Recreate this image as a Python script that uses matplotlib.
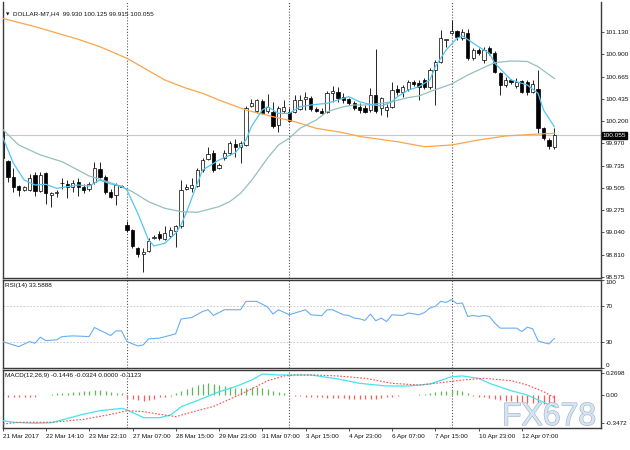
import numpy as np
import matplotlib
matplotlib.use("Agg")
import matplotlib.pyplot as plt
import matplotlib.transforms as mtrans
import matplotlib.patheffects as pe

plt.rcParams['font.family'] = ['Liberation Sans', 'DejaVu Sans']

# DOLLAR-M7, H4 candles (one per 4h bar)
opens = [100.098, 99.785, 99.615, 99.524, 99.483, 99.483, 99.639, 99.472, 99.660, 99.431,
         99.451, 99.556, 99.545, 99.514, 99.566, 99.514, 99.493, 99.566, 99.702, 99.618,
         99.462, 99.431, 99.524, 99.118, 99.066, 98.878, 98.815, 98.846, 98.982, 99.024,
         98.972, 99.003, 99.055, 99.107, 99.493, 99.504, 99.524, 99.691, 99.806, 99.869,
         99.712, 99.816, 99.869, 99.962, 99.931, 99.952, 100.359, 100.307, 100.411, 100.307,
         100.296, 100.161, 100.307, 100.296, 100.296, 100.327, 100.432, 100.442, 100.327, 100.307,
         100.296, 100.494, 100.505, 100.453, 100.432, 100.390, 100.348, 100.338, 100.317, 100.473,
         100.338, 100.317, 100.348, 100.536, 100.505, 100.536, 100.609, 100.599, 100.630, 100.557,
         100.734, 100.818, 101.047, 101.120, 101.141, 101.068, 101.120, 100.859, 100.943, 100.838,
         100.963, 100.911, 100.703, 100.578, 100.630, 100.567, 100.619, 100.609, 100.505, 100.536,
         100.129, 100.004, 99.930]
highs = [100.129, 99.795, 99.709, 99.535, 99.524, 99.650, 99.670, 99.670, 99.670, 99.462,
         99.483, 99.608, 99.587, 99.587, 99.608, 99.545, 99.566, 99.775, 99.775, 99.639,
         99.493, 99.556, 99.535, 99.160, 99.076, 98.888, 98.878, 98.982, 99.013, 99.055,
         99.107, 99.097, 99.118, 99.587, 99.545, 99.608, 99.712, 99.816, 99.931, 99.900,
         99.764, 99.900, 99.994, 100.015, 99.994, 100.359, 100.432, 100.432, 100.432, 100.484,
         100.400, 100.359, 100.421, 100.338, 100.473, 100.473, 100.505, 100.463, 100.348, 100.338,
         100.515, 100.567, 100.557, 100.494, 100.442, 100.411, 100.390, 100.369, 100.546, 100.953,
         100.453, 100.380, 100.609, 100.578, 100.578, 100.630, 100.630, 100.630, 100.651, 100.755,
         100.838, 101.151, 101.057, 101.256, 101.151, 101.162, 101.162, 100.963, 100.963, 100.974,
         100.984, 100.932, 100.713, 100.661, 100.640, 100.651, 100.630, 100.630, 100.630, 100.734,
         100.140, 100.025, 100.125]
lows = [99.795, 99.566, 99.465, 99.420, 99.472, 99.472, 99.420, 99.462, 99.337, 99.305,
        99.410, 99.493, 99.399, 99.462, 99.420, 99.451, 99.472, 99.545, 99.608, 99.441,
        99.399, 99.326, 99.514, 99.045, 98.878, 98.784, 98.628, 98.836, 98.972, 98.961,
        98.961, 98.982, 98.888, 99.086, 99.483, 99.462, 99.514, 99.670, 99.795, 99.670,
        99.702, 99.795, 99.848, 99.827, 99.764, 99.942, 100.348, 100.286, 100.275, 100.286,
        100.129, 100.088, 100.286, 100.192, 100.286, 100.317, 100.317, 100.307, 100.296, 100.275,
        100.286, 100.400, 100.400, 100.390, 100.369, 100.317, 100.286, 100.286, 100.296, 100.286,
        100.265, 100.244, 100.338, 100.473, 100.453, 100.515, 100.567, 100.421, 100.536, 100.536,
        100.369, 100.807, 100.974, 101.110, 101.047, 101.047, 100.838, 100.838, 100.890, 100.807,
        100.890, 100.703, 100.473, 100.557, 100.588, 100.546, 100.494, 100.473, 100.494, 100.077,
        100.004, 99.910, 99.915]
closes = [99.816, 99.618, 99.517, 99.483, 99.514, 99.608, 99.472, 99.639, 99.451, 99.451,
          99.457, 99.551, 99.514, 99.556, 99.514, 99.483, 99.545, 99.712, 99.618, 99.462,
          99.410, 99.535, 99.519, 99.066, 98.899, 98.815, 98.841, 98.951, 98.992, 98.982,
          99.034, 99.066, 99.107, 99.483, 99.514, 99.535, 99.691, 99.795, 99.858, 99.691,
          99.743, 99.869, 99.973, 99.931, 99.973, 100.338, 100.390, 100.421, 100.286, 100.348,
          100.150, 100.338, 100.348, 100.202, 100.421, 100.421, 100.453, 100.327, 100.307, 100.286,
          100.494, 100.515, 100.442, 100.421, 100.390, 100.338, 100.317, 100.296, 100.473, 100.307,
          100.442, 100.348, 100.525, 100.505, 100.557, 100.609, 100.588, 100.557, 100.557, 100.734,
          100.818, 101.068, 101.057, 101.141, 101.078, 101.130, 100.859, 100.943, 100.911, 100.943,
          100.911, 100.713, 100.578, 100.630, 100.609, 100.609, 100.505, 100.505, 100.588, 100.129,
          100.025, 99.942, 100.055]

# moving averages (bar index, value)
fast_idx = [0, 2, 4, 6, 8, 10, 12, 14, 16, 18, 20, 22, 23, 25, 27, 28, 30, 32, 33, 34, 35,
            36, 37, 40, 43, 45, 46, 48, 49, 51, 53, 55, 57, 60, 62, 64, 66, 68, 70, 72, 73,
            75, 77, 79, 80, 82, 84, 85, 88, 90, 91, 94, 96, 97, 99, 100, 102]
fast_val = [100.039, 99.764, 99.587, 99.535, 99.542, 99.500, 99.517, 99.535, 99.524, 99.587,
            99.545, 99.524, 99.483, 99.240, 98.961, 98.899, 98.927, 99.031, 99.118, 99.25, 99.40,
            99.55, 99.691, 99.795, 99.869, 100.004, 100.143, 100.317, 100.351, 100.282, 100.282,
            100.351, 100.369, 100.387, 100.421, 100.456, 100.403, 100.374, 100.359, 100.403,
            100.456, 100.525, 100.560, 100.630, 100.769, 100.943, 101.065, 101.089, 100.977,
            100.908, 100.804, 100.630, 100.595, 100.578, 100.491, 100.317, 100.143]
mid_idx = [0, 3, 7, 11, 13, 16, 20, 22, 24, 27, 30, 33, 36, 40, 42, 44, 46, 49, 51, 53,
           55, 58, 60, 63, 65, 67, 69, 72, 75, 77, 79, 83, 86, 90, 91, 94, 97, 99, 102]
mid_val = [100.116, 99.952, 99.848, 99.778, 99.719, 99.629, 99.559, 99.517, 99.465, 99.361,
           99.292, 99.257, 99.250, 99.309, 99.361, 99.448, 99.58, 99.816, 99.952, 100.022,
           100.126, 100.213, 100.299, 100.351, 100.369, 100.369, 100.379, 100.403, 100.447,
           100.463, 100.508, 100.588, 100.682, 100.786, 100.810, 100.828, 100.823, 100.768, 100.645]
slow_idx = [0, 6, 14, 18, 23, 30, 34, 37, 40, 45, 50, 54, 58, 63, 66, 70, 73, 78, 83, 88,
            93, 98, 102]
slow_val = [101.273, 101.186, 101.054, 100.977, 100.856, 100.630, 100.543, 100.491, 100.421,
            100.317, 100.247, 100.195, 100.126, 100.080, 100.041, 100.009, 99.986, 99.934,
            99.952, 100.004, 100.046, 100.063, 100.074]

# RSI(14)
rsi_idx = [0, 3, 5, 6, 7, 8, 10, 11, 13, 16, 17, 20, 21, 22, 23, 25, 26, 27, 29, 32,
           33, 35, 37, 38, 39, 41, 44, 45, 47, 49, 50, 51, 53, 56, 57, 59, 60, 61, 63, 64,
           65, 66, 67, 68, 69, 70, 71, 72, 74, 75, 77, 78, 79, 80, 81, 82, 83, 84, 85, 86,
           87, 88, 89, 90, 91, 92, 94, 95, 96, 97, 98, 99, 100, 101, 102]
rsi_val = [30, 24.3, 30, 28.1, 35, 31.1, 32, 35.7, 36.5, 35.7, 46, 36.9, 42.2, 42.2, 30,
           25.1, 26.2, 33.1, 33.9, 38.8, 55.6, 57.4, 64.3, 66.2, 59.7, 66.2, 66.2, 75.7, 75.7,
           69.3, 61.3, 66.2, 60.5, 66.2, 60.5, 59.4, 66.2, 66.2, 60.5, 59.7, 56.7, 56, 54,
           61.3, 53.7, 56.7, 52.9, 60.5, 59.7, 62.5, 60.5, 63.1, 68.1, 70, 75.7, 74.6, 77.7,
           73.1, 73.9, 58.6, 59.7, 58.6, 59.7, 58.6, 51, 45.3, 45.3, 45.3, 41.4, 46.4, 44.5,
           30.8, 28.9, 27.4, 33.59]

# MACD(12,26,9)
macd_idx = [0, 2, 6, 9, 12, 15, 18, 22, 23, 26, 29, 31, 33, 37, 40, 43, 46, 48, 51, 53,
            57, 62, 66, 71, 75, 79, 83, 85, 88, 90, 94, 97, 99, 102]
macd_val = [-0.317, -0.337, -0.349, -0.342, -0.288, -0.235, -0.193, -0.165, -0.185, -0.280,
            -0.280, -0.247, -0.144, -0.041, 0.041, 0.103, 0.185, 0.259, 0.247, 0.247,
            0.247, 0.198, 0.144, 0.111, 0.111, 0.136, 0.226, 0.235, 0.206, 0.144,
            0.053, 0.0, -0.062, -0.1446]
sig_idx = [0, 3, 9, 15, 20, 23, 26, 29, 32, 35, 39, 43, 46, 49, 52, 54, 58, 62, 67, 72,
           77, 81, 85, 89, 94, 97, 100, 102]
sig_val = [-0.358, -0.337, -0.337, -0.300, -0.238, -0.193, -0.206, -0.238, -0.267, -0.21,
           -0.14, -0.02, 0.075, 0.177, 0.235, 0.247, 0.247, 0.235, 0.206, 0.144,
           0.123, 0.152, 0.185, 0.206, 0.177, 0.123, 0.041, -0.0324]
hist = [0.04, -0.02, -0.02, -0.025, -0.025, -0.02, -0.02, -0.005, 0.0, 0.01,
        0.02, 0.022, 0.03, 0.035, 0.037, 0.045, 0.05, 0.06, 0.06, 0.053,
        0.04, 0.03, 0.028, -0.035, -0.05, -0.062, -0.08, -0.065, -0.045, -0.03,
        -0.02, -0.01, 0.02, 0.05, 0.08, 0.1, 0.12, 0.135, 0.15, 0.138,
        0.125, 0.112, 0.103, 0.092, 0.083, 0.09, 0.1, 0.1, 0.09, 0.08,
        0.055, 0.035, 0.02, 0.005, -0.01, -0.015, -0.02, -0.025, -0.03, -0.03,
        -0.035, -0.035, -0.04, -0.04, -0.045, -0.05, -0.05, -0.05, -0.045, -0.045,
        -0.04, -0.03, -0.02, -0.01, 0.0, 0.003, 0.006, 0.01, 0.015, 0.02,
        0.035, 0.045, 0.055, 0.065, 0.06, 0.045, 0.02, -0.012, -0.02, -0.03,
        -0.04, -0.053, -0.062, -0.07, -0.08, -0.085, -0.09, -0.095, -0.1, -0.103,
        -0.105, -0.11, -0.1123]

price_ticks = [101.130, 100.900, 100.665, 100.435, 100.200, 99.970, 99.735, 99.505,
               99.275, 99.040, 98.810, 98.575]
last_price = 100.055
week_starts = [23, 53, 83]
tick_idx = [0, 8, 16, 24, 32, 40, 48, 56, 64, 72, 80, 88, 96]
tick_lbl = ['21 Mar 2017', '22 Mar 14:10', '23 Mar 22:10', '27 Mar 07:00', '28 Mar 15:00',
            '29 Mar 23:00', '31 Mar 07:00', '3 Apr 15:00', '4 Apr 23:00', '6 Apr 07:00',
            '7 Apr 15:00', '10 Apr 23:00', '12 Apr 07:00']

W, H = 630, 450
X0, X1 = 3, 601
FS = 4.6
fig = plt.figure(figsize=(W / 100, H / 100), dpi=100)

def panel(top, bottom):
    return fig.add_axes([X0 / W, 1 - bottom / H, (X1 - X0) / W, (bottom - top) / H])

main = panel(2, 278)
rsi = panel(280, 368)
macd = panel(370, 428)

# bar i sits at pixel 2.5 + 5.41*i
xl = ((X0 - 2.5) / 5.41, (X1 - 2.5) / 5.41)
for ax in (main, rsi, macd):
    ax.set_xlim(*xl)
    for s in ax.spines.values():
        s.set_color('#3a3a3a')
        s.set_linewidth(1.0)
    ax.yaxis.tick_right()
    ax.tick_params(axis='y', length=2, width=0.5, pad=1.5, labelsize=FS, colors='#111111')
    for w in week_starts:
        ax.axvline(w, color='#555555', lw=0.8, ls=(0, (1, 1.6)), zorder=1)
main.spines['top'].set_visible(False)

# candles
idx = np.arange(len(closes))
o, h, l, c = (np.array(v) for v in (opens, highs, lows, closes))
up = c >= o
lo = np.minimum(o, c)
bh = np.maximum(np.abs(c - o), 0.006)
main.vlines(idx, l, h, color='black', lw=0.6, zorder=2)
main.bar(idx[up], bh[up], bottom=lo[up], width=0.6, facecolor='white', edgecolor='black',
         lw=0.5, zorder=2.5)
main.bar(idx[~up], bh[~up], bottom=lo[~up], width=0.6, facecolor='black', edgecolor='black',
         lw=0.5, zorder=2.5)

main.plot(slow_idx, slow_val, color='#fba54c', lw=0.9, zorder=3)
main.plot(mid_idx, mid_val, color='#95c0be', lw=0.9, zorder=3)
main.plot(fast_idx, fast_val, color='#55c6f2', lw=0.9, zorder=3)
main.axhline(last_price, color='#c8c8c8', lw=0.8, zorder=1)

main.set_ylim(98.565, 101.443)
main.set_yticks(price_ticks)
main.set_yticklabels(['%.3f' % p for p in price_ticks])
main.set_xticks([])
blend = mtrans.blended_transform_factory(main.transAxes, main.transData)
main.text(1.003, last_price, '%.3f' % last_price, transform=blend, fontsize=FS, color='white',
          va='center', ha='left', zorder=5, clip_on=False,
          bbox=dict(facecolor='black', edgecolor='black', pad=0.7))
fig.text(6 / W, 1 - 14 / H, '\u25bc', fontsize=3.2, family='DejaVu Sans', va='center',
         color='#111111')
fig.text(13 / W, 1 - 14 / H, 'DOLLAR-M7,H4  99.930 100.125 99.915 100.055', fontsize=FS,
         va='center', color='#111111')

# RSI
rsi.plot(rsi_idx, rsi_val, color='#68aef2', lw=0.8, zorder=3)
for lev in (30, 70):
    rsi.axhline(lev, color='#c4c4c4', lw=0.6, ls=(0, (2, 2)), zorder=1)
rsi.set_ylim(0, 100)
rsi.set_yticks([100, 70, 30, 0])
rsi.set_yticklabels(['100', '70', '30', '0'])
rsi.get_yticklabels()[0].set_va('top')
rsi.get_yticklabels()[3].set_va('bottom')
rsi.set_xticks([])
fig.text(5 / W, 1 - 285 / H, 'RSI(14) 33.5888', fontsize=FS, va='center', color='#111111')

# MACD
hist_a = np.array(hist)
cols = np.where(hist_a >= 0, '#5fb75f', '#ff5a5a')
macd.vlines(idx, 0, hist_a, colors=cols, lw=0.9, zorder=2)
macd.plot(macd_idx, macd_val, color='#45e3ee', lw=0.9, zorder=3)
macd.plot(sig_idx, sig_val, color='#ff4a4a', lw=0.8, ls=(0, (1.5, 1.5)), zorder=3)
macd.set_ylim(-(428 - 395) / 81, (395 - 370) / 81)
macd.set_yticks([0.2698, 0.0, -0.3472])
macd.set_yticklabels(['0.2698', '0.00', '-0.3472'])
macd.set_xticks(tick_idx)
macd.set_xticklabels(tick_lbl)
macd.tick_params(axis='x', length=2, width=0.5, pad=2, labelsize=FS, colors='#111111')
for t in macd.get_xticklabels():
    t.set_ha('left')
fig.text(5 / W, 1 - 375 / H, 'MACD(12,26,9) -0.1446 -0.0324 0.0000 -0.1123', fontsize=FS,
         va='center', color='#111111')

# watermark
fig.text(502 / W, 1 - 425 / H, 'FX678', fontsize=23, color='#d6e4f2', ha='left',
         va='baseline', zorder=10,
         path_effects=[pe.withStroke(linewidth=0.9, foreground='#a3b7cc')])

fig.savefig('out.png', dpi=100)
